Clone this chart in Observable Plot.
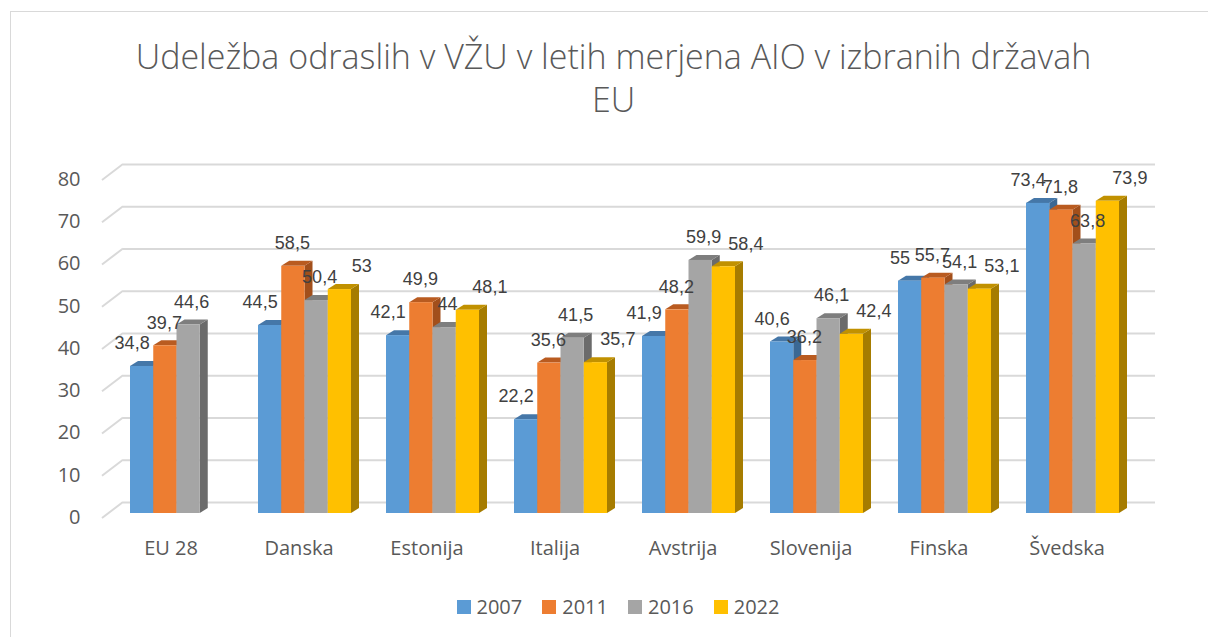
<!DOCTYPE html>
<html>
<head>
<meta charset="utf-8">
<script src="https://cdn.jsdelivr.net/npm/d3@7"></script>
<script src="https://cdn.jsdelivr.net/npm/@observablehq/plot@0.6"></script>
<style>
  html, body { margin: 0; padding: 0; background: #fff; overflow: hidden; }
  body { width: 1208px; height: 637px; position: relative; font-family: "Open Sans", sans-serif; }
  #frame { position: absolute; left: 10px; top: 11px; width: 1300px; height: 700px;
           border-left: 1px solid #d9d9d9; border-top: 1px solid #d9d9d9; box-sizing: border-box; }
  #title { position: absolute; left: 0; top: 35px; width: 1227px; text-align: center;
           font-size: 34px; font-weight: 300; color: #595959; line-height: 43px; }
  #chart { position: absolute; left: 0; top: 130px; }
  #legend { position: absolute; left: 0; top: 593px; width: 1236px; display: flex; justify-content: center;
            font-size: 20px; color: #595959; line-height: 28px; }
  .item { display: flex; align-items: center; margin: 0 10px; }
  .sw { width: 14px; height: 14px; margin-right: 6px; }
</style>
</head>
<body>
<div id="frame"></div>
<div id="title">Udeležba odraslih v VŽU v letih merjena AIO v izbranih državah<br>EU</div>
<div id="chart"></div>
<div id="legend"></div>
<script>
const categories = ["EU 28", "Danska", "Estonija", "Italija", "Avstrija", "Slovenija", "Finska", "Švedska"];
const years = ["2007", "2011", "2016", "2022"];
const v2007 = [34.8, 44.5, 42.1, 22.2, 41.9, 40.6, 55, 73.4];
const v2011 = [39.7, 58.5, 49.9, 35.6, 48.2, 36.2, 55.7, 71.8];
const v2016 = [44.6, 50.4, 44, 41.5, 59.9, 46.1, 54.1, 63.8];
const v2022 = [null, 53, 48.1, 35.7, 58.4, 42.4, 53.1, 73.9];
const yTicks = [0, 10, 20, 30, 40, 50, 60, 70, 80];

const colors = ["#5b9bd5", "#ed7d31", "#a5a5a5", "#ffc000"];
const topColors = ["#4577a8", "#b95b20", "#7e7e7e", "#c19100"];
const sideColors = ["#3b6894", "#a24f1b", "#6b6b6b", "#a67c00"];
const labelDx = [-10, -1, 3, 22];

const series = [v2007, v2011, v2016, v2022];
const rows = categories.flatMap((c, i) => years.map((yr, j) => ({category: c, year: yr, value: series[j][i]})))
  .filter(d => d.value != null);
const fmt = v => String(v).replace(".", ",");

function build(bw) {
  const marks = [
    Plot.ruleY(yTicks, {stroke: "#d9d9d9", strokeWidth: 2, dy: -11, insetLeft: 31, insetRight: 3})
  ];
  years.forEach((yr, j) => {
    const d = rows.filter(r => r.year === yr);
    const o = {x: "category", y: "value", insetLeft: j * bw, insetRight: (3 - j) * bw};
    marks.push(Plot.barY(d, {...o, fill: sideColors[j], dx: 8, dy: -5}));
    marks.push(Plot.barY(d, {...o, fill: colors[j]}));
  });
  years.forEach((yr, j) => {
    const d = rows.filter(r => r.year === yr);
    marks.push(Plot.text(d, {x: "category", y: "value", text: r => fmt(r.value),
      dx: (j - 1.5) * bw + labelDx[j], dy: -23, fontSize: 18, fontFamily: "Liberation Sans", fill: "#404040"}));
  });
  marks.push(Plot.axisY({ticks: yTicks, tickSize: 0, tickPadding: 12, dy: 4, label: null}));
  marks.push(Plot.axisX({tickSize: 0, tickPadding: 27, dx: -6, label: null}));
  return Plot.plot({
    width: 1208, height: 440,
    marginLeft: 92, marginRight: 50, marginTop: 45, marginBottom: 57,
    x: {domain: categories, padding: 0.27, axis: null},
    y: {domain: [0, 80], axis: null},
    style: {fontFamily: "Open Sans", fontSize: "20px", color: "#595959", background: "transparent", overflow: "visible"},
    marks
  });
}

let plot = build(23.5);
const bwReal = plot.scale("x").bandwidth / 4;
plot = build(bwReal);

// 3D faces: turn the offset bars into top + side faces
d3.select(plot).selectAll("g[aria-label=bar]").each(function () {
  const j = sideColors.indexOf(this.getAttribute("fill"));
  if (j < 0) return;
  const g = d3.select(this);
  g.selectAll("rect").each(function () {
    const x = +this.getAttribute("x"), y = +this.getAttribute("y");
    const w = +this.getAttribute("width"), h = +this.getAttribute("height");
    g.append("path").attr("fill", sideColors[j])
      .attr("d", `M${x + w - 8},${y + 5}L${x + w},${y}L${x + w},${y + h}L${x + w - 8},${y + h + 5}Z`);
    g.append("path").attr("fill", topColors[j])
      .attr("d", `M${x - 8},${y + 5}L${x},${y}L${x + w},${y}L${x + w - 8},${y + 5}Z`);
    this.remove();
  });
});

// left wall diagonal gridline segments
const ys = plot.scale("y"), xr = plot.scale("x").range;
const diag = d3.select(plot).insert("g", ":first-child").attr("stroke", "#d9d9d9").attr("stroke-width", 2);
yTicks.forEach(t => {
  const y = ys.apply(t);
  diag.append("line").attr("x1", xr[0] + 10).attr("y1", y + 5).attr("x2", xr[0] + 31).attr("y2", y - 11);
});

document.getElementById("chart").appendChild(plot);

const legend = document.getElementById("legend");
years.forEach((yr, j) => {
  const it = document.createElement("div");
  it.className = "item";
  it.innerHTML = `<div class="sw" style="background:${colors[j]}"></div><span>${yr}</span>`;
  legend.appendChild(it);
});
</script>
</body>
</html>
